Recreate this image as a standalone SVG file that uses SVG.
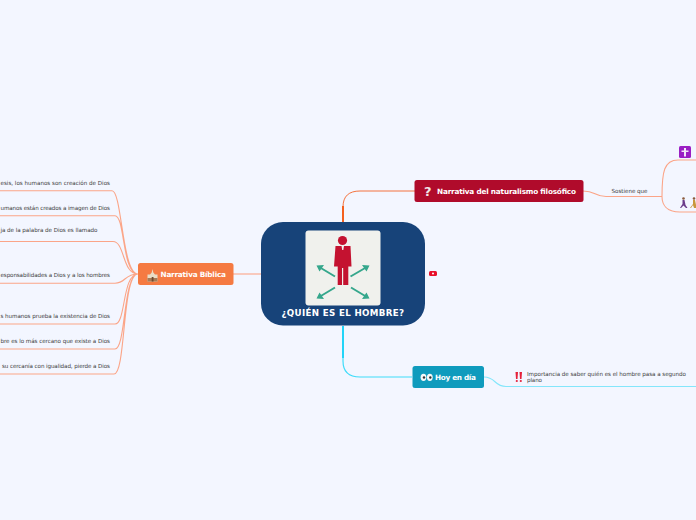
<svg xmlns="http://www.w3.org/2000/svg" width="696" height="520" viewBox="0 0 696 520">
<style>
.s{font:5.6px "DejaVu Sans",sans-serif;fill:#3c3c3c;}
.b{font:bold 7.300px "DejaVu Sans",sans-serif;fill:#fff;}
.o{fill:none;stroke:#fba588;stroke-width:1.100;}
.c{fill:none;stroke:#84e6fb;stroke-width:1.100;}
.a{fill:none;stroke:#35a78c;stroke-width:2;}
.h{fill:#35a78c;}
</style>
<rect width="696" height="520" fill="#f3f6ff"/>
<g id="connectors">
<path class="o" d="M0 190.700H112C122 190.700 122 274 138 274M0 215.700H115C125 215.700 122 274 138 274M0 241.500H113C125 241.500 122 274 138 274M0 283.200H115C126 283.200 124 274 138 274M0 324H115C126 324 122 274 138 274M0 349H115C126 349 123 274 138 274M0 374H114C126 374 122 274 138 274"/>
<path class="o" d="M233 274H261"/>
<path d="M343 222V207C343 196 349 191 360 191H415" fill="none" stroke="#f4733e" stroke-width="1"/>
<path d="M343 222V206" fill="none" stroke="#f4601e" stroke-width="2"/>
<path class="o" d="M583 191C596 191 594 196.500 606 196.500H662"/>
<path class="o" d="M696 160H678C664 160 662 172 662 196.500C662 204 666 212 680 212H696"/>
<path d="M343 326V361C343 372 349 377 360 377H412" fill="none" stroke="#3fdcfa" stroke-width="1.200"/>
<path d="M343 326V358" fill="none" stroke="#22d4f8" stroke-width="2"/>
<path class="c" d="M484 377C496 377 494 386.500 506 386.500H696"/>
</g>
<g id="central">
<rect x="261" y="222" width="164" height="103.500" rx="22" fill="#174379"/>
<rect x="305.500" y="230.500" width="75" height="75" rx="3" fill="#f0f1ed"/>
<circle cx="342.500" cy="240.500" r="4.600" fill="#c41230"/>
<path d="M335.500 246H350.500L351.500 266.500H348.300V285H343.200V268H342V285H337.700V266.500H334Z" fill="#c41230"/>
<path d="M341.500 246H344L343.300 250H342.200Z" fill="#f0f1ed"/>
<path class="a" d="M335 276.500L320 267.500M350.500 276.500L366 267.500M335 287.500L320 296.500M351 287.500L366 296.500"/>
<path class="h" d="M316.500 265.500L324 265L319.500 271.500ZM369.500 265.500L362 265L366.500 271.500ZM316.500 298.500L324 299L319.500 292.500ZM369.500 298.500L362 299L366.500 292.500Z"/>
<text x="281.500" y="316" class="b" textLength="122.500" style="font-size:8.700px">¿QUIÉN ES EL HOMBRE?</text>
</g>
<g id="marker"><rect x="429" y="271" width="8" height="5" rx="1.500" fill="#e8102a"/><circle cx="433" cy="273.500" r="1" fill="#fff"/></g>
<g id="biblica">
<rect x="138" y="263" width="95.500" height="22" rx="2.500" fill="#f57a42"/>
<path d="M152.500 269L153.300 272.500L155 274.500H157.500V281.500H147.500V274.500H150L151.700 272.500Z" fill="#e9dcc5"/>
<rect x="147.500" y="278" width="10" height="3.500" fill="#a87a55"/>
<rect x="151.700" y="277" width="1.800" height="4.500" fill="#6b4a30"/>
<text x="160.500" y="277" class="b" textLength="65.500">Narrativa Bíblica</text>
</g>
<g id="naturalismo">
<rect x="414.500" y="180" width="169" height="22" rx="2.500" fill="#b00b2b"/>
<text x="424" y="196" style="font:bold 13px 'DejaVu Sans',sans-serif;fill:#f2e4e6">?</text>
<text x="437" y="194" class="b" textLength="139">Narrativa del naturalismo filosófico</text>
</g>
<g id="hoy">
<rect x="412.500" y="366" width="71.500" height="22" rx="2.500" fill="#0f9bbd"/>
<ellipse cx="423.500" cy="377.300" rx="2.900" ry="3.600" fill="#f5f8f8"/><ellipse cx="429.800" cy="377.300" rx="2.900" ry="3.600" fill="#f5f8f8"/>
<circle cx="424" cy="377.500" r="1.200" fill="#333"/><circle cx="430.300" cy="377.500" r="1.200" fill="#333"/>
<text x="435" y="380" class="b" textLength="41">Hoy en día</text>
</g>
<g id="sostiene"><text x="611.500" y="192.500" class="s" textLength="36">Sostiene que</text></g>
<g id="cross">
<rect x="679" y="146" width="12" height="12" rx="1.500" fill="#9a1fc4"/>
<path d="M684 148H686V150.500H688.500V152H686V156.500H684V152H681.500V150.500H684Z" fill="#f3e8f7"/>
</g>
<g id="runners">
<circle cx="683.500" cy="198.500" r="1.300" fill="#8a5a3c"/><path d="M682.500 200H684.500L685.500 205L687.500 208H686L683.500 205.500L681 208H680L682.500 204Z" fill="#6b3c8a"/>
<circle cx="694" cy="198.500" r="1.300" fill="#8a5a3c"/><path d="M693 200H695L696 205V208H694L693 205L691 208H690L693 204Z" fill="#c9963c"/>
</g>
<g id="leaves">
<text x="0.500" y="185" class="s" textLength="109.500">esis, los humanos son creación de Dios</text>
<text x="0.500" y="210" class="s" textLength="109.500">umanos están creados a imagen de Dios</text>
<text x="0.500" y="232" class="s" textLength="97">ja de la palabra de Dios es llamado</text>
<text x="0.500" y="277" class="s" textLength="109.500">esponsabilidades a Dios y a los hombres</text>
<text x="0.500" y="318" class="s" textLength="109.500">s humanos prueba la existencia de Dios</text>
<text x="0.500" y="343" class="s" textLength="109.500">bre es lo más cercano que existe a Dios</text>
<text x="2" y="368" class="s" textLength="108">su cercanía con igualidad, pierde a Dios</text>
</g>
<g id="importancia">
<path d="M515.500 372H518L517.500 379H516ZM519.500 372H522L521.500 379H520Z" fill="#e5203a"/>
<circle cx="516.800" cy="381" r="1.100" fill="#e5203a"/><circle cx="520.800" cy="381" r="1.100" fill="#e5203a"/>
<text x="527" y="376" class="s" textLength="159">Importancia de saber quién es el hombre pasa a segundo</text>
<text x="527" y="382" class="s" textLength="15">plano</text>
</g>
</svg>
